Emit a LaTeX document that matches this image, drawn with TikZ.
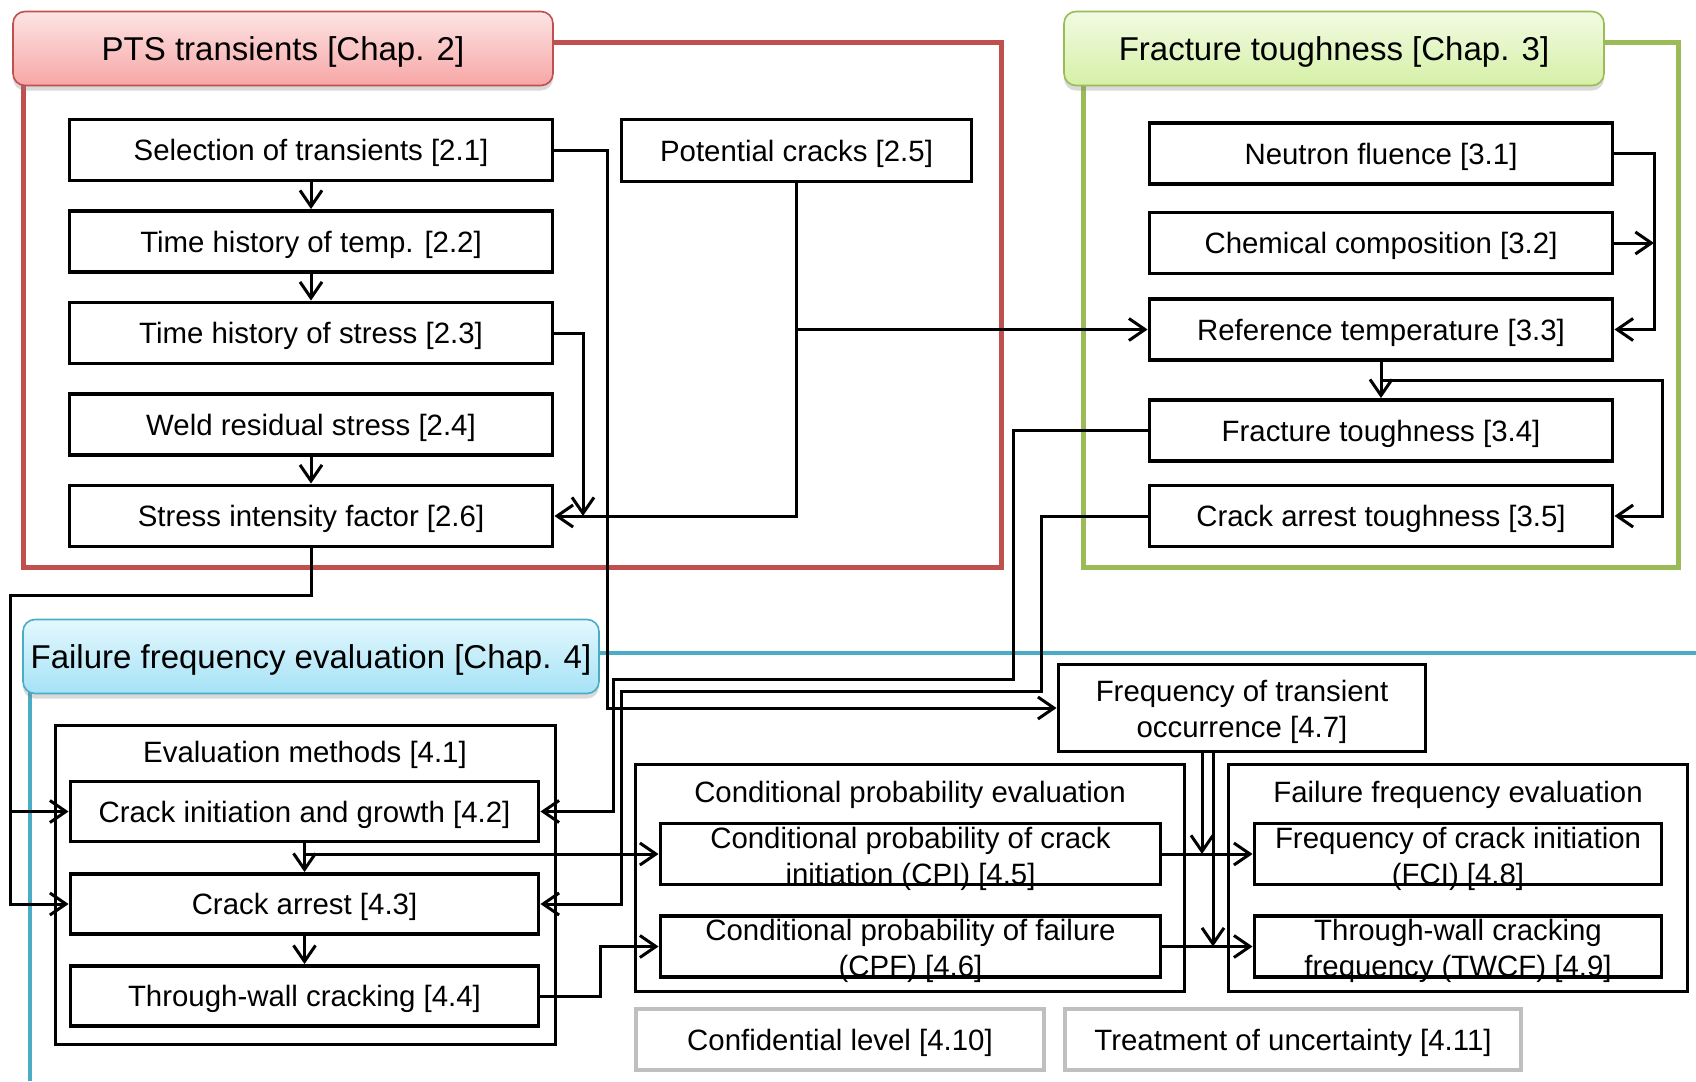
\documentclass[tikz,border=0pt]{standalone}
\usepackage{fontspec}
\setmainfont{Liberation Sans}
\usetikzlibrary{arrows.meta,calc,shadows}
\definecolor{ptsRed}{HTML}{C0504D}
\definecolor{ptsTop}{HTML}{FDE4E4}
\definecolor{ptsBot}{HTML}{F7A6A6}
\definecolor{ftGreen}{HTML}{9BBB59}
\definecolor{ftTop}{HTML}{F2FBE3}
\definecolor{ftBot}{HTML}{D5F0A6}
\definecolor{ffBlue}{HTML}{4BACC6}
\definecolor{ffTop}{HTML}{E4F8FE}
\definecolor{ffBot}{HTML}{A5E2F6}
\definecolor{boxGray}{HTML}{BFBFBF}
\tikzset{
 flowchart/.style={font=\fontsize{29.4}{36}\selectfont},
 capText/.style={text height=21pt,text depth=0pt},
 box/.style={rectangle,draw=black,fill=white,line width=3.9pt,inner sep=0pt,capText},
 twoLine/.style={align=center,inner sep=0pt},
 groupbox/.style={rectangle,draw=black,line width=3.7pt,inner sep=0pt},
 cfbox/.style={rectangle,draw=boxGray,fill=white,line width=4pt,inner sep=0pt,capText},
 chapTitle/.style={rectangle,rounded corners=12pt,line width=1.6pt,inner sep=0pt,
   font=\fontsize{33}{40}\selectfont,text height=23.6pt,text depth=0pt,
   drop shadow={shadow xshift=0pt,shadow yshift=-5pt,opacity=.3}},
 chapFrame/.style={line width=5pt},
 wire/.style={draw=black,line width=3pt},
 arr/.style={wire,-{Straight Barb[length=16pt,width=22pt]}}
}

\begin{document}
\begin{tikzpicture}[flowchart,x=1pt,y=-1pt]
 \useasboundingbox (0,0) rectangle (1696,1081);
 \draw[chapFrame,ptsRed] (23,43) rectangle (1001,567);
 \draw[chapFrame,ftGreen] (1083,43) rectangle (1678,567);
 \draw[chapFrame,ffBlue,line width=4.5pt] (30,1081) -- (30,653) -- (1696,653);
 \node[chapTitle,draw=ptsRed,top color=ptsTop,bottom color=ptsBot,minimum width=540,minimum height=74] (ch2) at (283,48.5) {PTS transients [Chap. 2]};
 \node[chapTitle,draw=ftGreen,top color=ftTop,bottom color=ftBot,minimum width=540,minimum height=74] (ch3) at (1334,48.5) {Fracture toughness [Chap. 3]};
 \node[chapTitle,draw=ffBlue,top color=ffTop,bottom color=ffBot,minimum width=576,minimum height=74] (ch4) at (311,656.5) {Failure frequency evaluation [Chap. 4]};
 \foreach \n/\y/\txt in {21/150/{Selection of transients [2.1]},22/241.5/{Time history of temp. [2.2]},
   23/333/{Time history of stress [2.3]},24/424.5/{Weld residual stress [2.4]},26/516/{Stress intensity factor [2.6]}}{
   \node[box,minimum width=483,minimum height=61] (t\n) at (311,\y) {\txt};}
 \node[box,minimum width=350,minimum height=62] (t25) at (796.5,150.5) {Potential cracks [2.5]};
 \foreach \n/\y/\txt in {31/153.5/{Neutron fluence [3.1]},32/243/{Chemical composition [3.2]},
   33/329.5/{Reference temperature [3.3]},34/430.5/{Fracture toughness [3.4]},35/516/{Crack arrest toughness [3.5]}}{
   \node[box,minimum width=463,minimum height=61] (f\n) at (1381,\y) {\txt};}
 \node[groupbox,minimum width=500,minimum height=319] (e41) at (305.5,885) {};
 \node[capText,inner sep=0pt] (e41t) at (305,752) {Evaluation methods [4.1]};
 \foreach \n/\y/\txt in {42/811.5/{Crack initiation and growth [4.2]},43/904/{Crack arrest [4.3]},44/996/{Through-wall cracking [4.4]}}{
   \node[box,minimum width=468,minimum height=60] (e\n) at (304.5,\y) {\txt};}
 \node[groupbox,minimum width=549,minimum height=227] (cpe) at (910,878) {};
 \node[capText,inner sep=0pt] (cpet) at (910,792) {Conditional probability evaluation};
 \node[box,minimum width=500,minimum height=61] (c45) at (910.5,854) {};
 \node[twoLine] (c45t) at ([yshift=-4.5pt]c45.center) {Conditional probability of crack\\initiation (CPI) [4.5]};
 \node[box,minimum width=500,minimum height=61] (c46) at (910.5,946.5) {};
 \node[twoLine] (c46t) at ([yshift=-4.5pt]c46.center) {Conditional probability of failure\\(CPF) [4.6]};
 \node[box,minimum width=367,minimum height=87] (f47) at (1242,708) {};
 \node[twoLine] (f47t) at ([yshift=-4pt]f47.center) {Frequency of transient\\occurrence [4.7]};
 \node[groupbox,minimum width=459,minimum height=227] (ffe) at (1458,878) {};
 \node[capText,inner sep=0pt] (ffet) at (1458,792) {Failure frequency evaluation};
 \node[box,minimum width=407,minimum height=61] (f48) at (1458,854) {};
 \node[twoLine] (f48t) at ([yshift=-4.5pt]f48.center) {Frequency of crack initiation\\(FCI) [4.8]};
 \node[box,minimum width=407,minimum height=61] (f49) at (1458,946.5) {};
 \node[twoLine] (f49t) at ([yshift=-4.5pt]f49.center) {Through-wall cracking\\frequency (TWCF) [4.9]};
 \node[cfbox,minimum width=408,minimum height=61] (g410) at (840,1039.5) {Confidential level [4.10]};
 \node[cfbox,minimum width=456,minimum height=61] (g411) at (1293,1039.5) {Treatment of uncertainty [4.11]};
 \coordinate (v21) at (607,708);
 \coordinate (j26) at (583,516);
 \coordinate (r3) at (1654,243);
 \coordinate (m33) at ($(f33.south)!.5!(f34.north)$);
 \coordinate (r35) at (1662,450);
 \coordinate (k34a) at (1013,679);
 \coordinate (k34b) at (613,811.5);
 \coordinate (k35a) at (1041,691);
 \coordinate (k35b) at (621,904);
 \coordinate (k26a) at (10,595);
 \coordinate (k44) at (600,970);
 \coordinate (p48) at (1202,854);
 \coordinate (p49) at (1213,946.5);
 \draw[arr] (t21) -- (t22);
 \draw[arr] (t22) -- (t23);
 \draw[arr] (t24) -- (t26);
 \draw[arr] (t21.east) -| (v21) -- (f47.west);
 \draw[arr] (t23.east) -| (j26);
 \draw[arr] (t25.south) |- (f33.west);
 \draw[arr] (t25.south) |- (t26.east);
 \draw[arr] (f31.east) -| (r3) |- (f33.east);
 \draw[arr] (f32.east) -- (r3);
 \draw[arr] (f33) -- (f34);
 \draw[arr] (m33) -| (r35) |- (f35.east);
 \draw[arr] (f34.west) -| (k34a) -| (k34b) -- (e42.east);
 \draw[arr] (f35.west) -| (k35a) -| (k35b) -- (e43.east);
 \draw[arr] (t26.south) |- (k26a) |- (e43.west);
 \draw[arr] (k26a |- e42.west) -- (e42.west);
 \draw[arr] (e42) -- (e43);
 \draw[arr] (e43) -- (e44);
 \draw[arr] (e42.south |- c45.west) -- (c45.west);
 \draw[arr] (e44.east) -| (k44) |- (c46.west);
 \draw[arr] (c45) -- (f48);
 \draw[arr] (c46) -- (f49);
 \draw[arr] (p48 |- f47.south) -- (p48);
 \draw[arr] (p49 |- f47.south) -- (p49);
\end{tikzpicture}
\end{document}
